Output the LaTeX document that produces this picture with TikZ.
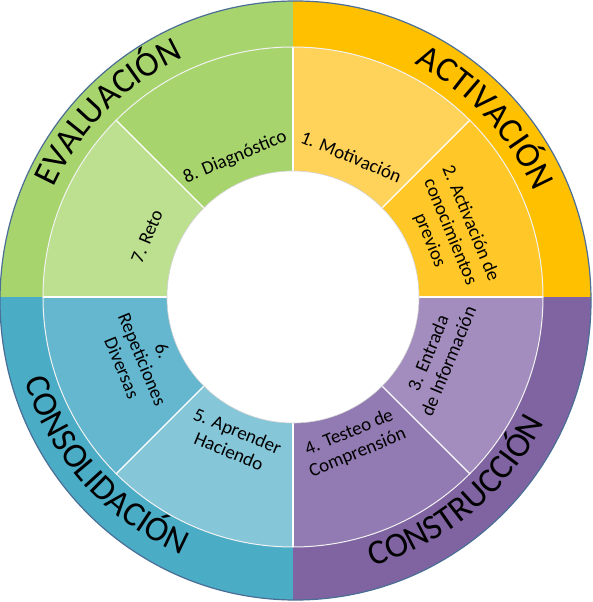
\documentclass[tikz,border=0pt]{standalone}
\usepackage{fontspec}
\setmainfont{Carlito}
\usetikzlibrary{decorations.text}

\definecolor{evalGreen}{HTML}{A8D46E}
\definecolor{actOrange}{HTML}{FFC000}
\definecolor{constPurple}{HTML}{8064A2}
\definecolor{consolBlue}{HTML}{4BACC6}
\definecolor{segOne}{HTML}{FFD25A}
\definecolor{segTwo}{HTML}{FFC828}
\definecolor{segThree}{HTML}{A38DBE}
\definecolor{segFour}{HTML}{927AB2}
\definecolor{segFive}{HTML}{85C6D8}
\definecolor{segSix}{HTML}{64B7CF}
\definecolor{segSeven}{HTML}{BCE08F}
\definecolor{segEight}{HTML}{A8D46E}
\definecolor{rimBlue}{HTML}{4A6E96}

\newcommand\ringfont{\fontsize{35}{35}\selectfont}

\begin{document}
\begin{tikzpicture}[x=1pt, y=1pt,
    seglabel/.style={align=center, inner sep=0pt, font=\fontsize{19}{22}\selectfont},
    sepline/.style={white, line width=1.2pt},
    ringtext/.style={decorate, decoration={text along path, text align=center, text={#1}}}]
    \useasboundingbox (-293,-305) rectangle (300,297);

    % Outer ring
    \begin{scope}
        \clip (2.5,-3.5) ellipse [x radius=295.5, y radius=299.5];
        \fill[evalGreen] (-300,0) rectangle (0,310);
        \fill[actOrange] (0,0) rectangle (310,310);
        \fill[constPurple] (0,0) rectangle (310,-310);
        \fill[consolBlue] (-300,0) rectangle (0,-310);
    \end{scope}
    \draw[rimBlue, line width=1.2pt] (2.5,-3.5) ellipse [x radius=295.5, y radius=299.5];

    % Segments
    \foreach \a/\b/\c in {45/90/segOne, 0/45/segTwo, -45/0/segThree, -90/-45/segFour,
                          -135/-90/segFive, 180/225/segSix, 135/180/segSeven, 90/135/segEight}
        \fill[\c] (\a:126) -- (\a:250) arc[start angle=\a, end angle=\b, radius=250]
            -- (\b:126) arc[start angle=\b, end angle=\a, radius=126] -- cycle;

    % Separators
    \foreach \a in {0,45,...,315}
        \draw[sepline] (\a:126) -- (\a:250);
    \draw[white!90!gray, line width=1pt] (0,0) circle [radius=250];

    % Hole
    \fill[white] (0,0) circle [radius=126];
    \draw[gray!35, line width=0.6pt] (0,0) circle [radius=126];

    % Segment labels
    \node[seglabel, rotate=-22.5] (motivacion) at (67.5:152) {1. Motivación};
    \node[seglabel, rotate=-67.5] (activacion) at (22.5:170) {2. Activación de\\conocimientos\\previos};
    \node[seglabel, rotate=67.5] (entrada) at (-22.5:157) {3. Entrada\\de Información};
    \node[seglabel, rotate=22.5] (testeo) at (-67.5:158) {4. Testeo de\\Comprensión};
    \node[seglabel, rotate=-22.5] (aprender) at (-112.5:156) {5. Aprender\\Haciendo};
    \node[seglabel, rotate=-67.5] (repeticiones) at (-157.5:163) {6.\\Repeticiones\\Diversas};
    \node[seglabel, rotate=67.5] (reto) at (157.5:158) {7. Reto};
    \node[seglabel, rotate=22.5] (diagnostico) at (112.5:151) {8. Diagnóstico};

    % Ring labels
    \path[ringtext={|\ringfont|EVALUACIÓN}] (170:263) arc[start angle=170, end angle=100, radius=263];
    \path[ringtext={|\ringfont|ACTIVACIÓN}] (78:263) arc[start angle=78, end angle=8, radius=263];
    \path[ringtext={|\ringfont|CONSTRUCCIÓN}] (-88:281) arc[start angle=-88, end angle=-12, radius=281];
    \path[ringtext={|\ringfont|CONSOLIDACIÓN}] (-176:281) arc[start angle=-176, end angle=-100, radius=281];
\end{tikzpicture}
\end{document}
